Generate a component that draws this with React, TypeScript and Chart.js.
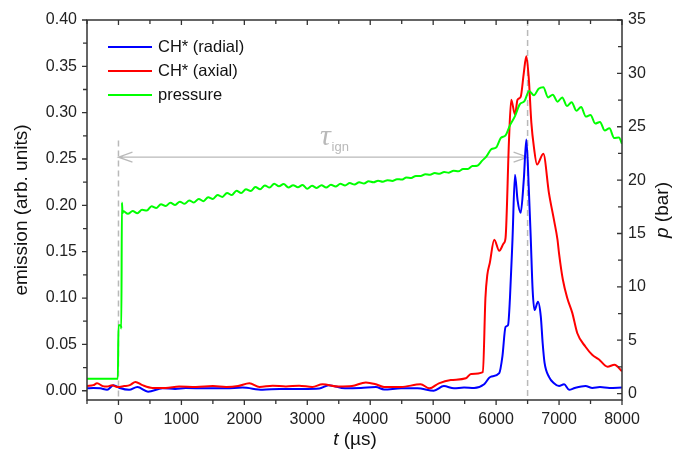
import { useEffect, useRef } from "react";
import { Chart, registerables } from "chart.js";

Chart.register(...registerables);

// ---------- data ----------
const radialT = [-500, -400, -290, -180, -80, 20, 170, 300, 470, 700, 900, 1070, 1390, 1710, 1970, 2290, 2560, 2920, 3190, 3340, 3600, 3850, 4090, 4220, 4490, 4750, 5010, 5170, 5330, 5490, 5650, 5810, 5910, 6050, 6100, 6150, 6190, 6220, 6260, 6300, 6340, 6390, 6440, 6480, 6520, 6550, 6580, 6610, 6665, 6710, 6740, 6770, 6840, 6920, 7000, 7080, 7160, 7250, 7420, 7530, 7650, 7800, 8000];
const radialV = [0.0026, 0.003, 0.0026, 0.001, 0.006, 0.003, 0.001, 0.004, -0.001, 0.0026, 0.002, 0.003, 0.0026, 0.0026, 0.0034, 0.001, 0.002, 0.002, 0.0025, 0.006, 0.0026, 0.003, 0.004, 0.0013, 0.0026, 0.0026, 0.0, 0.005, 0.0026, 0.0035, 0.003, 0.007, 0.015, 0.019, 0.037, 0.069, 0.071, 0.1, 0.163, 0.233, 0.206, 0.192, 0.228, 0.271, 0.217, 0.165, 0.109, 0.087, 0.096, 0.08, 0.051, 0.03, 0.015, 0.008, 0.005, 0.007, 0.001, 0.003, 0.005, 0.003, 0.004, 0.003, 0.0035];

const axialT = [-500, -400, -340, -250, -180, -100, -20, 90, 180, 270, 380, 540, 750, 965, 1230, 1500, 1710, 1900, 2080, 2240, 2450, 2660, 2870, 3080, 3240, 3500, 3710, 3930, 4090, 4220, 4490, 4800, 4940, 5090, 5280, 5520, 5600, 5790, 5830, 5860, 5900, 5970, 6050, 6120, 6150, 6205, 6240, 6300, 6340, 6390, 6440, 6480, 6520, 6560, 6600, 6650, 6750, 6840, 6920, 6975, 7000, 7060, 7130, 7210, 7290, 7420, 7530, 7630, 7770, 7880, 8000];
const axialV = [0.005, 0.006, 0.008, 0.005, 0.0045, 0.006, 0.004, 0.005, 0.006, 0.0095, 0.006, 0.003, 0.003, 0.0045, 0.004, 0.005, 0.004, 0.005, 0.008, 0.004, 0.0055, 0.0045, 0.0055, 0.004, 0.007, 0.0045, 0.005, 0.009, 0.007, 0.004, 0.004, 0.007, 0.0026, 0.008, 0.0115, 0.0134, 0.018, 0.02, 0.1, 0.125, 0.138, 0.163, 0.151, 0.159, 0.165, 0.271, 0.314, 0.298, 0.314, 0.317, 0.343, 0.361, 0.336, 0.289, 0.263, 0.244, 0.2556, 0.213, 0.184, 0.163, 0.148, 0.12, 0.1, 0.084, 0.062, 0.0475, 0.0386, 0.034, 0.026, 0.028, 0.021];

const pressureStartT = [-500, -10, 0, 40, 45, 55, 65];
const pressureStartV = [1.4, 1.4, 6.4, 6.4, 6.1, 17.9, 16.9];
const pressureStep = 75; // sampling interval of the read-off trace (first sample at 75 µs)
const pressureSampled = [
  17.1, 16.85, 17.1, 16.9, 17.22, 17.15, 17.55, 17.38, 17.75, 17.58,
  17.88, 17.68, 17.98, 17.78, 18.1, 17.9, 18.24, 18.02, 18.4, 18.24,
  18.6, 18.42, 18.8, 18.6, 19.0, 18.8, 19.15, 18.97, 19.35, 19.14,
  19.5, 19.3, 19.67, 19.42, 19.64, 19.3, 19.53, 19.33, 19.55, 19.2,
  19.47, 19.26, 19.52, 19.3, 19.56, 19.4, 19.65, 19.5, 19.72, 19.59,
  19.8, 19.68, 19.89, 19.8, 19.94, 19.85, 19.99, 19.92, 20.09, 20.05,
  20.24, 20.2, 20.39, 20.38, 20.56, 20.5, 20.66, 20.59, 20.75, 20.7,
  20.87, 20.82, 21.03, 21.04, 21.32, 21.35, 21.8, 22.25, 22.9, 23.05,
  23.95, 24.2, 25.2, 26.0, 27.1, 27.4, 28.35, 27.95, 28.55, 28.7,
  27.75, 28.0, 27.35, 27.75, 26.95, 27.3, 26.5, 26.85, 25.95, 26.1,
  25.3, 25.45, 24.65, 24.85, 23.95, 24.0,
];
const pressureEndT = [8000];
const pressureEndV = [23.4];

const xMajorTicks = [0, 1000, 2000, 3000, 4000, 5000, 6000, 7000, 8000];
const xMinorTicks = [-500, 500, 1500, 2500, 3500, 4500, 5500, 6500, 7500];
const emissionTicks = [0, 0.05, 0.1, 0.15, 0.2, 0.25, 0.3, 0.35, 0.4];
const emissionMinorTicks = [0.025, 0.075, 0.125, 0.175, 0.225, 0.275, 0.325, 0.375];
const pressureTicks = [0, 5, 10, 15, 20, 25, 30, 35];
const pressureMinorTicks = [2.5, 7.5, 12.5, 17.5, 22.5, 27.5, 32.5];

const seriesLabels = ["CH* (radial)", "CH* (axial)", "pressure"];
const seriesColors = ["#0000ff", "#ff0000", "#00ff00"];

const ignitionT = 6500;
const triggerT = 0;
const arrowLevel = 0.252;
const triggerLineTop = 0.27;
const tauLabelT = 3200;
const tauLabelLevel = 0.265;

// ---------- helpers ----------
const zip = (t: number[], v: number[]) => t.map((x, i) => ({ x, y: v[i] }));
const pressurePoints = [
  ...zip(pressureStartT, pressureStartV),
  ...pressureSampled.map((y, i) => ({ x: pressureStep * (i + 1), y })),
  ...zip(pressureEndT, pressureEndV),
];

const SANS = '"Liberation Sans", Arial, sans-serif';
const AXIS_COLOR = "#333333";
const GREY = "#b9b9b9";

const decorPlugin = {
  id: "decor",
  beforeDatasetsDraw(chart: any) {
    const { ctx, chartArea: a, scales } = chart;
    const x = scales.x, y = scales.y;
    ctx.save();
    ctx.strokeStyle = GREY;
    ctx.lineWidth = 1.5;
    ctx.setLineDash([6, 4]);
    const x0 = x.getPixelForValue(triggerT);
    const x1 = x.getPixelForValue(ignitionT);
    ctx.beginPath();
    ctx.moveTo(x0, y.getPixelForValue(triggerLineTop));
    ctx.lineTo(x0, a.bottom);
    ctx.moveTo(x1, a.top);
    ctx.lineTo(x1, a.bottom);
    ctx.stroke();
    ctx.setLineDash([]);
    // double arrow
    const ya = y.getPixelForValue(arrowLevel);
    ctx.lineWidth = 1.3;
    ctx.beginPath();
    ctx.moveTo(x0, ya);
    ctx.lineTo(x1, ya);
    ctx.moveTo(x0 + 14, ya - 5);
    ctx.lineTo(x0, ya);
    ctx.lineTo(x0 + 14, ya + 5);
    ctx.moveTo(x1 - 14, ya - 5);
    ctx.lineTo(x1, ya);
    ctx.lineTo(x1 - 14, ya + 5);
    ctx.stroke();
    // tau_ign
    const tx = x.getPixelForValue(tauLabelT);
    const ty = y.getPixelForValue(tauLabelLevel);
    ctx.fillStyle = GREY;
    ctx.textBaseline = "alphabetic";
    ctx.textAlign = "left";
    ctx.font = 'italic 30px "Liberation Serif", "DejaVu Serif", serif';
    ctx.fillText("τ", tx, ty);
    const w = ctx.measureText("τ").width;
    ctx.font = `13px ${SANS}`;
    ctx.fillText("ign", tx + w + 1, ty + 6);
    ctx.restore();
  },
  afterDraw(chart: any) {
    const { ctx, chartArea: a, scales } = chart;
    const x = scales.x, y = scales.y, y1 = scales.y1;
    ctx.save();
    // frame
    ctx.strokeStyle = AXIS_COLOR;
    ctx.lineWidth = 1.5;
    ctx.strokeRect(a.left, a.top, a.right - a.left, a.bottom - a.top);
    ctx.lineWidth = 1.3;
    ctx.beginPath();
    const tick = (vals: number[], len: number) => {
      vals.forEach((v) => {
        const px = x.getPixelForValue(v);
        ctx.moveTo(px, a.bottom);
        ctx.lineTo(px, a.bottom + len);
        ctx.moveTo(px, a.top);
        ctx.lineTo(px, a.top + len);
      });
    };
    tick(xMajorTicks, 5);
    tick(xMinorTicks, 4);
    emissionTicks.forEach((v) => {
      const py = y.getPixelForValue(v);
      ctx.moveTo(a.left, py);
      ctx.lineTo(a.left - 5, py);
    });
    emissionMinorTicks.forEach((v) => {
      const py = y.getPixelForValue(v);
      ctx.moveTo(a.left, py);
      ctx.lineTo(a.left - 4, py);
    });
    pressureTicks.forEach((v) => {
      const py = y1.getPixelForValue(v);
      ctx.moveTo(a.right, py);
      ctx.lineTo(a.right - 5, py);
    });
    pressureMinorTicks.forEach((v) => {
      const py = y1.getPixelForValue(v);
      ctx.moveTo(a.right, py);
      ctx.lineTo(a.right - 4, py);
    });
    ctx.stroke();

    // legend
    ctx.font = `16.5px ${SANS}`;
    ctx.textBaseline = "middle";
    ctx.textAlign = "left";
    seriesLabels.forEach((lab, i) => {
      const ly = a.top + 27 + i * 24;
      ctx.strokeStyle = seriesColors[i];
      ctx.lineWidth = 2;
      ctx.beginPath();
      ctx.moveTo(a.left + 21, ly);
      ctx.lineTo(a.left + 65, ly);
      ctx.stroke();
      ctx.fillStyle = "#111";
      ctx.fillText(lab, a.left + 71, ly);
    });

    // axis titles
    const drawParts = (parts: { t: string; f: string }[], cx: number, cy: number, rot: number) => {
      ctx.save();
      ctx.translate(cx, cy);
      ctx.rotate(rot);
      ctx.textBaseline = "middle";
      ctx.textAlign = "left";
      let total = 0;
      parts.forEach((p) => { ctx.font = p.f; total += ctx.measureText(p.t).width; });
      let sx = -total / 2;
      parts.forEach((p) => {
        ctx.font = p.f;
        ctx.fillText(p.t, sx, 0);
        sx += ctx.measureText(p.t).width;
      });
      ctx.restore();
    };
    ctx.fillStyle = "#111";
    const reg = `19px ${SANS}`;
    const ita = `italic 19px ${SANS}`;
    drawParts([{ t: "emission (arb. units)", f: reg }], 22, (a.top + a.bottom) / 2, -Math.PI / 2);
    drawParts([{ t: "p", f: ita }, { t: " (bar)", f: reg }], 663, 210, -Math.PI / 2);
    drawParts([{ t: "t", f: ita }, { t: " (µs)", f: reg }], 355, 440, 0);
    ctx.restore();
  },
};

export default function App() {
  const ref = useRef<HTMLCanvasElement | null>(null);
  useEffect(() => {
    if (!ref.current) return;
    const tickFont = { family: SANS, size: 16 };
    const lineStyle = { borderWidth: 2, pointRadius: 0, cubicInterpolationMode: "monotone" };
    const chart = new Chart(ref.current, {
      type: "line",
      data: {
        datasets: [
          {
            label: seriesLabels[0],
            data: zip(radialT, radialV),
            borderColor: seriesColors[0],
            ...lineStyle,
            yAxisID: "y",
            order: 3,
          },
          {
            label: seriesLabels[1],
            data: zip(axialT, axialV),
            borderColor: seriesColors[1],
            ...lineStyle,
            yAxisID: "y",
            order: 2,
          },
          {
            label: seriesLabels[2],
            data: pressurePoints,
            borderColor: seriesColors[2],
            ...lineStyle,
            yAxisID: "y1",
            order: 1,
          },
        ],
      },
      options: {
        animation: false,
        responsive: true,
        maintainAspectRatio: false,
        layout: { padding: { top: 20, left: 0, right: 0, bottom: 0 } },
        plugins: { legend: { display: false }, tooltip: { enabled: false } },
        scales: {
          x: {
            type: "linear",
            min: -500,
            max: 8000,
            grid: { display: false, drawTicks: false },
            border: { display: false },
            afterBuildTicks: (s: any) => { s.ticks = xMajorTicks.map((value) => ({ value })); },
            afterFit: (s: any) => { s.height = 53; },
            ticks: { font: tickFont, color: "#222", padding: 10, autoSkip: false, maxRotation: 0, callback: (v: any) => String(v) },
          },
          y: {
            type: "linear",
            position: "left",
            min: -0.01,
            max: 0.4,
            grid: { display: false, drawTicks: false },
            border: { display: false },
            afterBuildTicks: (s: any) => { s.ticks = emissionTicks.map((value) => ({ value })); },
            afterFit: (s: any) => { s.width = 87; },
            ticks: { font: tickFont, color: "#222", padding: 10, autoSkip: false, callback: (v: any) => Number(v).toFixed(2) },
          },
          y1: {
            type: "linear",
            position: "right",
            min: -0.6,
            max: 35,
            grid: { display: false, drawTicks: false },
            border: { display: false },
            afterBuildTicks: (s: any) => { s.ticks = pressureTicks.map((value) => ({ value })); },
            afterFit: (s: any) => { s.width = 53; },
            ticks: { font: tickFont, color: "#222", padding: 6, autoSkip: false, callback: (v: any) => String(v) },
          },
        },
      },
      plugins: [decorPlugin],
    } as any);
    return () => chart.destroy();
  }, []);
  return (
    <div style={{ position: "fixed", left: 0, top: 0, width: 675, height: 453, background: "#fff" }}>
      <canvas ref={ref} />
    </div>
  );
}
